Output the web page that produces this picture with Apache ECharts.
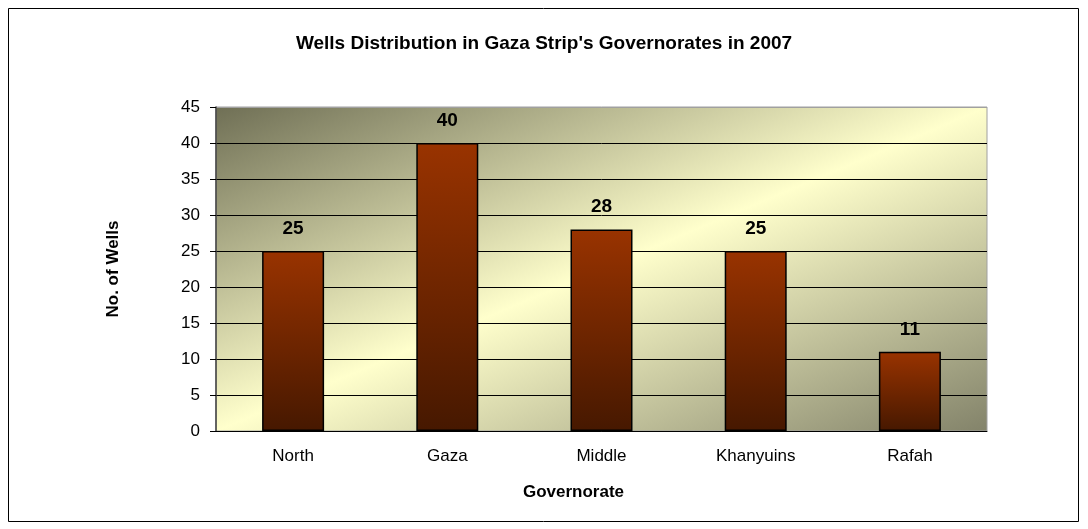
<!DOCTYPE html>
<html>
<head>
<meta charset="utf-8">
<title>Wells Distribution</title>
<script src="https://cdn.jsdelivr.net/npm/echarts@6/dist/echarts.min.js"></script>
<style>
	html, body { margin: 0; padding: 0; background: #fff; }
	#main { width: 1088px; height: 529px; }
</style>
</head>
<body>
<div id="main"></div>
<script>
// 数据
var governorates = ['North', 'Gaza', 'Middle', 'Khanyuins', 'Rafah'];
var wells = [25, 40, 28, 25, 11];

var myChart = echarts.init(document.getElementById('main'));
var font = '"Liberation Sans", Arial, sans-serif';

// 绘图区位置（背景渐变用像素坐标）
var gl = 216, gt = 107, gw = 771, gh = 324;
var k = 2 * gw * gh / (gw * gw + gh * gh);

var option = {
	animation: false,
	title: {
		text: "Wells Distribution in Gaza Strip's Governorates in 2007",
		left: 'center',
		top: 29,
		textStyle: { fontFamily: font, fontSize: 19, fontWeight: 'bold', color: '#000' }
	},
	graphic: [{
		type: 'rect',
		shape: { x: 8.5, y: 8.5, width: 1070, height: 513 },
		style: { fill: 'none', stroke: '#000', lineWidth: 1 },
		silent: true
	}],
	grid: {
		show: true,
		left: gl,
		right: 1088 - gl - gw,
		top: gt,
		bottom: 529 - gt - gh,
		borderColor: '#a0a0a0',
		borderWidth: 1,
		// 背景渐变：左上暗 -> 对角线浅黄 -> 右下暗
		backgroundColor: new echarts.graphic.LinearGradient(gl, gt, gl + gh * k, gt + gw * k, [
			{ offset: 0, color: '#6f6f55' },
			{ offset: 0.5, color: '#ffffcc' },
			{ offset: 1, color: '#83836a' }
		], true)
	},
	xAxis: {
		type: 'category',
		data: governorates,
		name: 'Governorate',
		nameLocation: 'middle',
		nameGap: 53,
		nameTextStyle: { fontFamily: font, fontSize: 17, fontWeight: 'bold', color: '#000', padding: [0, 56, 0, 0] },
		axisLine: { lineStyle: { color: '#000', width: 1 } },
		axisTick: { length: 5, lineStyle: { color: '#000' } },
		axisLabel: { fontFamily: font, fontSize: 17, color: '#000', margin: 17 }
	},
	yAxis: {
		type: 'value',
		min: 0,
		max: 45,
		interval: 5,
		name: 'No. of Wells',
		nameLocation: 'middle',
		nameGap: 94,
		nameTextStyle: { fontFamily: font, fontSize: 17, fontWeight: 'bold', color: '#000' },
		axisLine: { show: true, lineStyle: { color: '#404040', width: 1.5 } },
		axisTick: { show: true, length: 6, lineStyle: { color: '#000' } },
		axisLabel: { fontFamily: font, fontSize: 17, color: '#000', margin: 16 },
		splitLine: {
			show: true,
			lineStyle: {
				color: ['#000', '#000', '#000', '#000', '#000', '#000', '#000', '#000', '#000', '#a0a0a0'],
				width: 1
			}
		}
	},
	series: [{
		type: 'bar',
		data: wells,
		barWidth: 62,
		itemStyle: {
			color: new echarts.graphic.LinearGradient(0, 0, 0, 1, [
				{ offset: 0, color: '#993300' },
				{ offset: 1, color: '#461800' }
			]),
			borderColor: '#000',
			borderWidth: 1.5
		},
		label: {
			show: true,
			position: 'top',
			distance: 13,
			fontFamily: font,
			fontSize: 19,
			fontWeight: 'bold',
			color: '#000'
		}
	}]
};

myChart.setOption(option);
</script>
</body>
</html>
